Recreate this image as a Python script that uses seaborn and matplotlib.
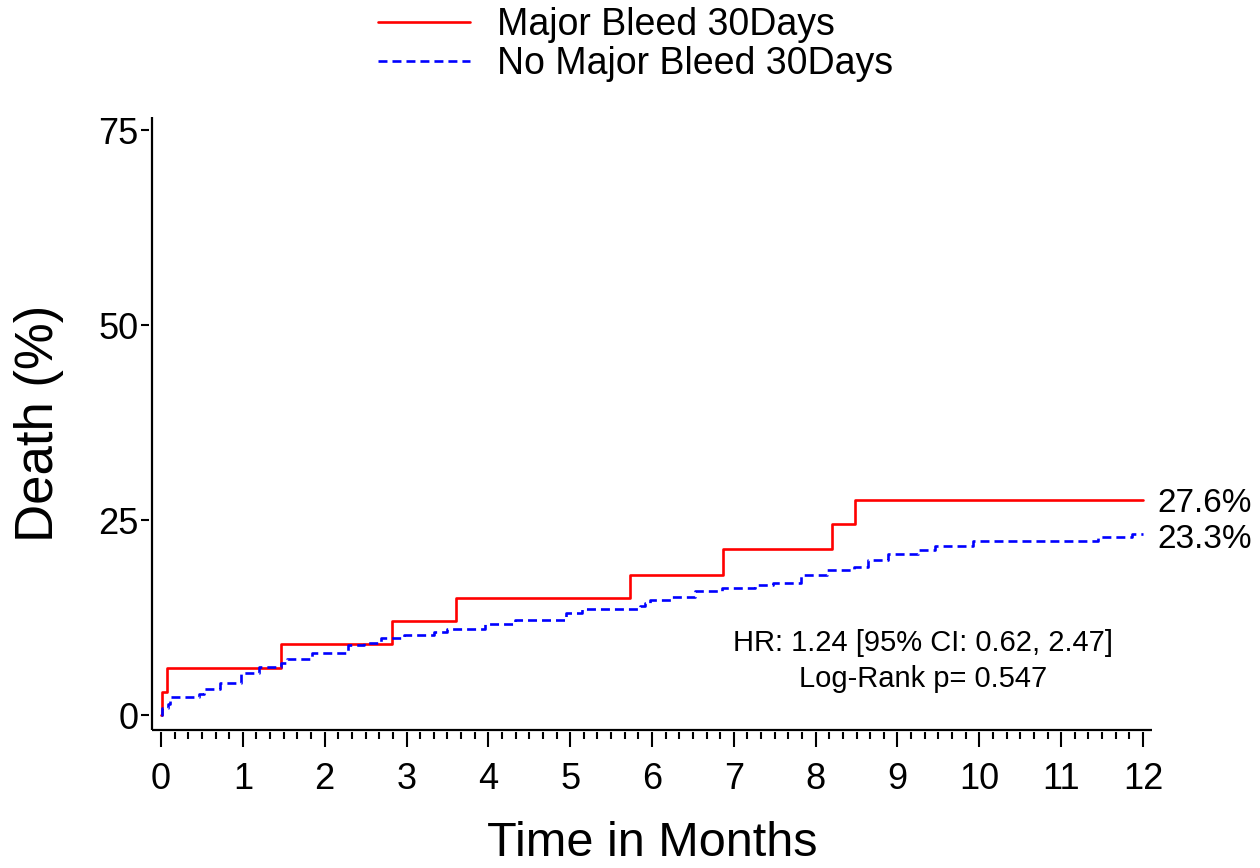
import matplotlib
matplotlib.use("Agg")
import matplotlib.pyplot as plt
import seaborn as sns
import pandas as pd
from matplotlib.ticker import MultipleLocator, FixedLocator

# ---- data ----
group_names = ["Major Bleed 30Days", "No Major Bleed 30Days"]

red_time = [0.0, 0.01, 0.07, 1.47, 2.82, 3.60, 5.73, 6.87, 8.20, 8.48, 12.0]
red_pct = [0.0, 3.0, 6.1, 9.1, 12.1, 15.0, 18.0, 21.3, 24.5, 27.6, 27.6]

blue_time = [0.0, 0.01, 0.08, 0.11, 0.46, 0.52, 0.72, 0.98, 1.20, 1.47, 1.54,
             1.85, 2.29, 2.48, 2.69, 2.97, 3.34, 3.50, 3.96, 4.33, 4.95, 5.15,
             5.85, 5.92, 5.98, 6.25, 6.52, 6.86, 7.26, 7.48, 7.82, 8.14, 8.47,
             8.64, 8.88, 9.25, 9.46, 9.92, 11.45, 11.86, 12.0]
blue_pct = [0.0, 0.9, 1.5, 2.4, 2.8, 3.35, 4.2, 5.4, 6.25, 6.7, 7.2,
            8.05, 9.0, 9.3, 9.9, 10.3, 10.7, 11.05, 11.7, 12.2, 13.1, 13.7,
            14.0, 14.4, 14.8, 15.2, 15.9, 16.4, 16.7, 17.0, 18.0, 18.65, 19.0,
            19.9, 20.7, 21.2, 21.7, 22.4, 22.9, 23.3, 23.3]

final_labels = ["27.6%", "23.3%"]
stats_text = "HR: 1.24 [95% CI: 0.62, 2.47]\nLog-Rank p= 0.547"
x_ticks = list(range(0, 13))
y_ticks = [0, 25, 50, 75]

# ---- style ----
sns.set_theme(style="white")
plt.rcParams["font.family"] = ["Liberation Sans", "DejaVu Sans"]
plt.rcParams["text.color"] = "black"
plt.rcParams["axes.labelcolor"] = "black"
plt.rcParams["xtick.color"] = "black"
plt.rcParams["ytick.color"] = "black"

W, H = 1260, 868
fig = plt.figure(figsize=(W / 100, H / 100), dpi=100)
ax = fig.add_axes([152 / W, 1 - 730 / H, 1000 / W, 613 / H])

red_df = pd.DataFrame({"time": red_time, "pct": red_pct})
blue_df = pd.DataFrame({"time": blue_time, "pct": blue_pct})

sns.lineplot(data=red_df, x="time", y="pct", ax=ax, color="#ff0000", lw=1.9,
             drawstyle="steps-post", estimator=None, sort=False,
             label=group_names[0])
sns.lineplot(data=blue_df, x="time", y="pct", ax=ax, color="#0000ff", lw=1.9,
             drawstyle="steps-post", estimator=None, sort=False,
             dashes=False, label=group_names[1])
ax.lines[1].set_dashes([3.4, 1.9])

ax.set_xlim(-0.11, 12.11)
ax.set_ylim(-1.86, 76.7)

# spines: draw frame lines manually, ticks offset from them
for s in ["top", "right"]:
    ax.spines[s].set_visible(False)
ax.spines["left"].set_position(("outward", 2.2))
ax.spines["bottom"].set_position(("outward", 1.5))
ax.spines["left"].set_color("none")
ax.spines["bottom"].set_color("none")
ax.plot([0, 0], [0, 1], transform=ax.transAxes, color="black", lw=1.6,
        clip_on=False, solid_capstyle="butt")
ax.plot([0, 1], [0, 0], transform=ax.transAxes, color="black", lw=1.6,
        clip_on=False, solid_capstyle="butt")

ax.xaxis.set_major_locator(FixedLocator(x_ticks))
ax.xaxis.set_minor_locator(MultipleLocator(1 / 6))
ax.yaxis.set_major_locator(FixedLocator(y_ticks))
ax.set_xticklabels([str(v) for v in x_ticks])
ax.set_yticklabels([str(v) for v in y_ticks])

ax.tick_params(axis="x", which="major", direction="out", length=10.5, width=1.5,
               color="black", labelsize=26, pad=11, bottom=True, labelcolor="black")
ax.tick_params(axis="x", which="minor", direction="out", length=5, width=1.5,
               color="black", bottom=True)
ax.tick_params(axis="y", which="major", direction="out", length=5.5, width=1.5,
               color="black", labelsize=26, pad=2, left=True, labelcolor="black")
ax.grid(False)

ax.set_xlabel("Time in Months", fontsize=35, color="black")
ax.set_ylabel("Death (%)", fontsize=38, color="black")
ax.xaxis.set_label_coords(0.5, -0.149)
ax.yaxis.set_label_coords(-0.088, 0.5)

# end labels
ax.text(red_time[-1] + 0.17, red_pct[-1] - 0.4, final_labels[0], fontsize=24,
        ha="left", va="center", clip_on=False, color="black")
ax.text(blue_time[-1] + 0.17, blue_pct[-1] - 0.8, final_labels[1], fontsize=24,
        ha="left", va="center", clip_on=False, color="black")

ax.text(0.771, 0.113, stats_text, transform=ax.transAxes, fontsize=21,
        ha="center", va="center", multialignment="center", linespacing=1.35,
        color="black")

handles, labels = ax.get_legend_handles_labels()
ax.legend_.remove()
fig.legend(handles, labels, loc="upper left", bbox_to_anchor=(378 / W, 0.992),
           frameon=False, fontsize=27, handlelength=2.45, handletextpad=0.72,
           labelspacing=0.09, borderpad=0, borderaxespad=0, labelcolor="black")

fig.savefig("out.png", dpi=100)
